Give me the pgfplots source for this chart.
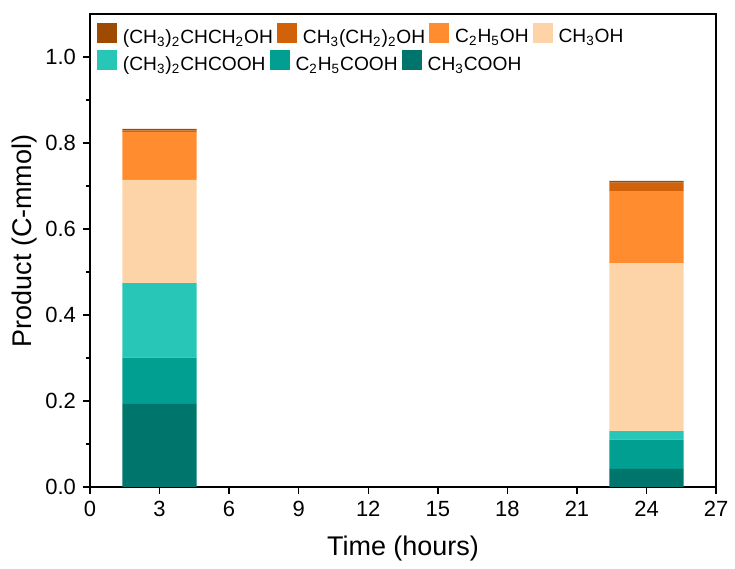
\documentclass[border=0pt]{standalone}
\usepackage{pgfplots}
\pgfplotsset{compat=1.18}
\usepackage{fontspec}
\setmainfont{Liberation Sans}

\definecolor{cIBu}{HTML}{9E4A00}
\definecolor{cPr}{HTML}{D2620A}
\definecolor{cEt}{HTML}{FF8C2F}
\definecolor{cMe}{HTML}{FDD4A7}
\definecolor{cIBA}{HTML}{27C6B7}
\definecolor{cPA}{HTML}{009F91}
\definecolor{cAA}{HTML}{00756B}

\newcommand{\sub}[1]{\textsubscript{#1}}

\pgfplotsset{
  swatch/.style={legend image code/.code={\fill[##1] (0pt,-2.5pt) rectangle (10pt,7.5pt); \path (11pt,0pt);}},
  common/.style={
    width=313.5pt, height=236.75pt, scale only axis,
    legend style={draw=none, fill=none, inner sep=0pt, column sep=2pt,
      nodes={inner sep=0pt, font=\fontsize{9.6}{11}\selectfont}},
  },
}

\begin{document}
\begin{tikzpicture}
\begin{axis}[
    common,
    ybar stacked,
    bar width=3.2,
    bar shift=0pt,
    xmin=0, xmax=27, ymin=0, ymax=1.1,
    xtick={0,3,...,27},
    ytick={0,0.2,...,1.0},
    minor y tick num=1,
    tick align=outside,
    xtick pos=bottom, ytick pos=left,
    major tick length=3.5pt, minor tick length=2pt,
    axis line style={line width=0.7pt},
    every tick/.style={black, line width=0.7pt},
    tick label style={font=\fontsize{11}{13}\selectfont},
    /pgf/number format/assume math mode=true,
    yticklabel style={/pgf/number format/.cd, fixed, fixed zerofill, precision=1},
    xlabel={Time (hours)}, ylabel={Product (C-mmol)},
    every axis x label/.style={at={([yshift=-31pt]axis description cs:0.5,0)}, anchor=center,
      inner sep=0pt, font=\fontsize{13.5}{16}\selectfont},
    every axis y label/.style={at={([xshift=-32.5pt]axis description cs:0,0.52)}, anchor=center,
      inner sep=0pt, rotate=90, font=\fontsize{13.5}{16}\selectfont},
    legend columns=4,
    reverse legend,
    legend style={at={(axis description cs:0,1)}, anchor=north west, xshift=3.35pt, yshift=-4.15pt},
]
% CH3COOH
\addplot[fill=cAA, draw=none, forget plot] coordinates {(3,0.193) (24,0.042)};
% C2H5COOH
\addplot[fill=cPA, draw=none, forget plot] coordinates {(3,0.108) (24,0.068)};
% (CH3)2CHCOOH
\addplot[fill=cIBA, draw=none, forget plot] coordinates {(3,0.173) (24,0.020)};
% CH3OH
\addplot[fill=cMe, draw=none, swatch] coordinates {(3,0.240) (24,0.390)};
\addlegendentry{CH\sub{3}OH}
% C2H5OH
\addplot[fill=cEt, draw=none, swatch] coordinates {(3,0.111) (24,0.167)};
\addlegendentry{C\sub{2}H\sub{5}OH}
% CH3(CH2)2OH
\addplot[fill=cPr, draw=none, swatch] coordinates {(3,0.004) (24,0.021)};
\addlegendentry{CH\sub{3}(CH\sub{2})\sub{2}OH}
% (CH3)2CHCH2OH
\addplot[fill=cIBu, draw=none, swatch] coordinates {(3,0.004) (24,0.004)};
\addlegendentry{(CH\sub{3})\sub{2}CHCH\sub{2}OH}
\coordinate (O) at (rel axis cs:0,0);
\coordinate (T) at (rel axis cs:1,1);
\end{axis}

% second legend row (acids)
\begin{axis}[
    common, hide axis,
    xmin=0, xmax=1, ymin=0, ymax=1,
    legend columns=3,
    legend style={at={(axis description cs:0,1)}, anchor=north west, xshift=3.35pt, yshift=-18pt},
]
\addlegendimage{fill=cIBA, draw=none, swatch}
\addlegendentry{(CH\sub{3})\sub{2}CHCOOH}
\addlegendimage{fill=cPA, draw=none, swatch}
\addlegendentry{C\sub{2}H\sub{5}COOH}
\addlegendimage{fill=cAA, draw=none, swatch}
\addlegendentry{CH\sub{3}COOH}
\end{axis}
\path ([shift={(-45pt,-40.75pt)}]O) rectangle ([shift={(9pt,7pt)}]T);
\end{tikzpicture}
\end{document}
